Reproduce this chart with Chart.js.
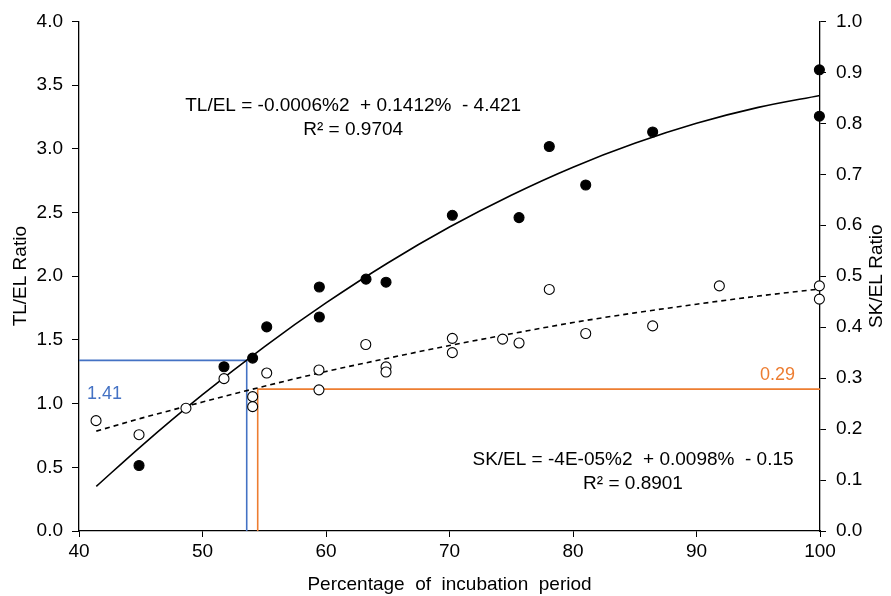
<!DOCTYPE html>
<html>
<head>
<meta charset="utf-8">
<script src="https://cdn.jsdelivr.net/npm/chart.js@4/dist/chart.umd.min.js"></script>
<style>
  html, body { margin: 0; padding: 0; background: #fff; }
  #wrap { width: 891px; height: 596px; }
</style>
</head>
<body>
<div id="wrap"><canvas id="c" width="891" height="596"></canvas></div>
<script>
// ---- data ----
const tlX = [44.86, 51.74, 54.06, 55.2, 59.46, 59.46, 63.24, 64.86, 70.23, 75.63, 78.08, 81.03, 86.45, 99.95, 99.95];
const tlY = [0.514, 1.289, 1.357, 1.602, 1.915, 1.68, 1.977, 1.953, 2.478, 2.46, 3.018, 2.716, 3.132, 3.62, 3.256];

const skX = [41.38, 44.86, 48.66, 51.74, 54.06, 54.06, 55.2, 59.43, 59.43, 63.22, 64.86, 64.86, 70.23, 70.23, 74.3, 75.63, 78.08, 81.03, 86.45, 91.85, 99.95, 99.95];
const skY = [0.2165, 0.189, 0.241, 0.299, 0.2636, 0.244, 0.31, 0.316, 0.277, 0.366, 0.322, 0.312, 0.378, 0.35, 0.3765, 0.369, 0.474, 0.3876, 0.4025, 0.481, 0.481, 0.455];

const trendX  = [41.4, 45, 50, 55, 60, 65, 70, 75, 80, 85, 90, 95, 100];
const tlTrend = [0.35, 0.663, 1.070, 1.446, 1.790, 2.104, 2.386, 2.636, 2.856, 3.043, 3.200, 3.325, 3.419];
const skTrend = [0.196, 0.221, 0.253, 0.284, 0.313, 0.339, 0.364, 0.387, 0.409, 0.428, 0.445, 0.461, 0.475];

const blueRefX = [40, 53.58, 53.58];
const blueRefY = [1.339, 1.339, 0];
const orangeRefX = [54.47, 54.47, 100];
const orangeRefY = [0, 0.2785, 0.2785];

const xTicks = [40, 50, 60, 70, 80, 90, 100];
const xTitle = "Percentage  of  incubation  period";
const yTitle = "TL/EL Ratio";
const y2Title = "SK/EL Ratio";
const tlEquation = "TL/EL = -0.0006%2  + 0.1412%  - 4.421";
const tlR2 = "R\u00b2 = 0.9704";
const skEquation = "SK/EL = -4E-05%2  + 0.0098%  - 0.15";
const skR2 = "R\u00b2 = 0.8901";
const blueLabel = "1.41";
const orangeLabel = "0.29";

const FONT = "'Liberation Sans', Arial, sans-serif";
const BLUE = '#4472C4';
const ORANGE = '#ED7D31';

const zip = (xs, ys) => xs.map((x, i) => ({ x: x, y: ys[i] }));

const textPlugin = {
  id: 'texts',
  afterDraw(chart) {
    const ctx = chart.ctx;
    const sx = chart.scales.x, sy = chart.scales.y, sy2 = chart.scales.y2;
    ctx.save();
    ctx.font = '19px ' + FONT;
    ctx.fillStyle = '#000';
    ctx.textAlign = 'center';
    ctx.textBaseline = 'middle';
    ctx.fillText(tlEquation, sx.getPixelForValue(62.2), sy.getPixelForValue(3.341));
    ctx.fillText(tlR2, sx.getPixelForValue(62.2), sy.getPixelForValue(3.147));
    ctx.fillText(skEquation, sx.getPixelForValue(84.86), sy.getPixelForValue(0.558));
    ctx.fillText(skR2, sx.getPixelForValue(84.86), sy.getPixelForValue(0.374));

    ctx.font = '18px ' + FONT;
    ctx.fillStyle = BLUE;
    ctx.textAlign = 'left';
    ctx.fillText(blueLabel, sx.getPixelForValue(40.65), sy.getPixelForValue(1.078));
    ctx.fillStyle = ORANGE;
    ctx.textAlign = 'right';
    ctx.fillText(orangeLabel, sx.getPixelForValue(97.98), sy2.getPixelForValue(0.306));

    // right axis title (reads bottom to top like the left one)
    ctx.fillStyle = '#000';
    ctx.font = '19px ' + FONT;
    ctx.textAlign = 'center';
    ctx.translate(877, (chart.chartArea.top + chart.chartArea.bottom) / 2);
    ctx.rotate(-Math.PI / 2);
    ctx.fillText(y2Title, 0, 0);
    ctx.restore();
  }
};

const ptBase = { showLine: false, clip: false, pointBorderWidth: 1.1 };

new Chart(document.getElementById('c'), {
  type: 'scatter',
  data: {
    datasets: [
      { label: 'blueRef', data: zip(blueRefX, blueRefY), yAxisID: 'y', showLine: true, borderColor: BLUE, borderWidth: 1.6, pointRadius: 0, fill: false, order: 5 },
      { label: 'orangeRef', data: zip(orangeRefX, orangeRefY), yAxisID: 'y2', showLine: true, borderColor: ORANGE, borderWidth: 1.6, pointRadius: 0, fill: false, order: 5 },
      { label: 'tlTrend', data: zip(trendX, tlTrend), yAxisID: 'y', showLine: true, borderColor: '#000', borderWidth: 1.6, pointRadius: 0, cubicInterpolationMode: 'monotone', fill: false, order: 4 },
      { label: 'skTrend', data: zip(trendX, skTrend), yAxisID: 'y2', showLine: true, borderColor: '#000', borderWidth: 1.6, borderDash: [5, 4], pointRadius: 0, cubicInterpolationMode: 'monotone', fill: false, order: 4 },
      Object.assign({ label: 'SK/EL', data: zip(skX, skY), yAxisID: 'y2', pointRadius: 5, pointBackgroundColor: '#fff', pointBorderColor: '#000', order: 2 }, ptBase),
      Object.assign({ label: 'TL/EL', data: zip(tlX, tlY), yAxisID: 'y', pointRadius: 5, pointBackgroundColor: '#000', pointBorderColor: '#000', order: 1 }, ptBase)
    ]
  },
  options: {
    responsive: false,
    animation: false,
    events: [],
    layout: { padding: { top: 15, left: 0, right: 0, bottom: 0 } },
    plugins: { legend: { display: false }, tooltip: { enabled: false } },
    scales: {
      x: {
        type: 'linear', min: 40, max: 100,
        afterBuildTicks: (s) => { s.ticks = xTicks.map(v => ({ value: v })); },
        afterFit: (s) => { s.height = 65; },
        grid: { drawOnChartArea: false, drawTicks: true, tickLength: 6, color: '#000', lineWidth: 1 },
        border: { display: true, color: '#000', width: 1.3 },
        ticks: { color: '#000', font: { family: FONT, size: 19 }, padding: 3, maxRotation: 0 },
        title: { display: true, text: xTitle, color: '#000', font: { family: FONT, size: 19 }, padding: { top: 0, bottom: 0 } }
      },
      y: {
        type: 'linear', position: 'left', min: 0, max: 4,
        ticks: { stepSize: 0.5, color: '#000', font: { family: FONT, size: 19 }, padding: 9, callback: v => Number(v).toFixed(1) },
        afterFit: (s) => { s.width = 79; },
        grid: { drawOnChartArea: false, drawTicks: true, tickLength: 7, color: '#000', lineWidth: 1 },
        border: { display: true, color: '#000', width: 1.3 },
        title: { display: true, text: yTitle, color: '#000', font: { family: FONT, size: 19 }, padding: { top: 9, bottom: 0 } }
      },
      y2: {
        type: 'linear', position: 'right', min: 0, max: 1,
        ticks: { stepSize: 0.1, color: '#000', font: { family: FONT, size: 19 }, padding: 10, callback: v => Number(v).toFixed(1) },
        afterFit: (s) => { s.width = 71; },
        grid: { drawOnChartArea: false, drawTicks: true, tickLength: 6, color: '#000', lineWidth: 1 },
        border: { display: true, color: '#000', width: 1.3 }
      }
    }
  },
  plugins: [textPlugin]
});
</script>
</body>
</html>
